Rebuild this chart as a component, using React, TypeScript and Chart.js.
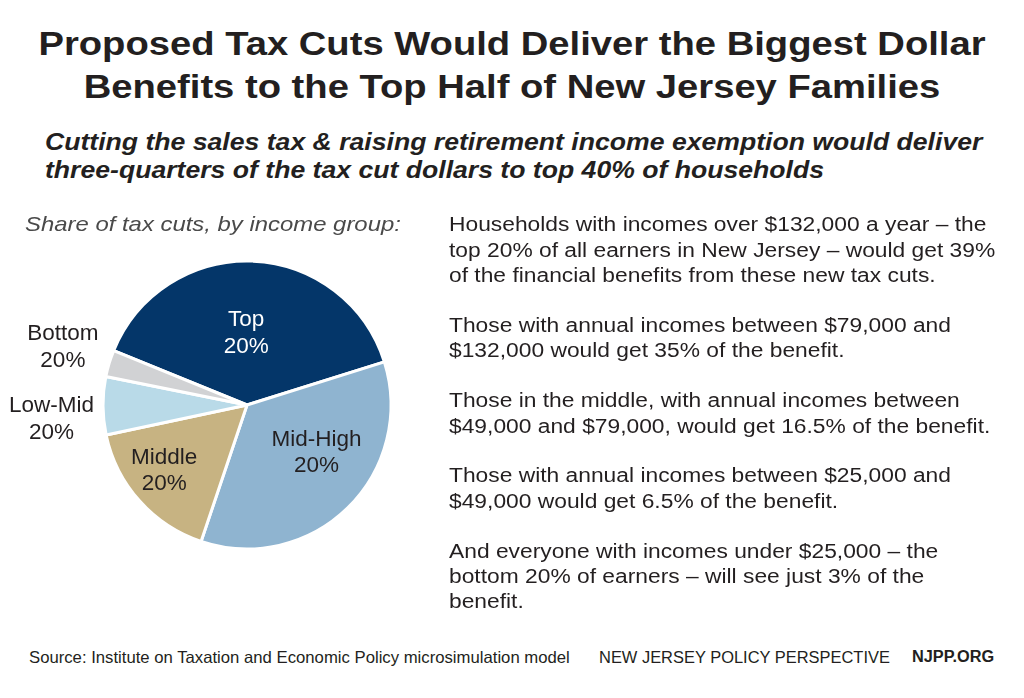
import React, { useEffect, useRef } from "react";
import { Chart, registerables } from "chart.js";
Chart.register(...registerables);

// ---- data ----
const groups = ["Top", "Mid-High", "Middle", "Low-Mid", "Bottom"];
const groupSizes = ["20%", "20%", "20%", "20%", "20%"];
const shareOfTaxCuts = [39, 35, 16.5, 6.5, 3];

const titleLines = [
  "Proposed Tax Cuts Would Deliver the Biggest Dollar",
  "Benefits to the Top Half of New Jersey Families",
];
const subtitleLines = [
  "Cutting the sales tax & raising retirement income exemption would deliver",
  "three-quarters of the tax cut dollars to top 40% of households",
];
const chartCaption = "Share of tax cuts, by income group:";
const paragraphs = [
  [
    "Households with incomes over $132,000 a year \u2013 the",
    "top 20% of all earners in New Jersey \u2013 would get 39%",
    "of the financial benefits from these new tax cuts.",
  ],
  ["Those with annual incomes between $79,000 and", "$132,000 would get 35% of the benefit."],
  [
    "Those in the middle, with annual incomes between",
    "$49,000 and $79,000, would get 16.5% of the benefit.",
  ],
  ["Those with annual incomes between $25,000 and", "$49,000 would get 6.5% of the benefit."],
  [
    "And everyone with incomes under $25,000 \u2013 the",
    "bottom 20% of earners \u2013 will see just 3% of the",
    "benefit.",
  ],
];
const sourceText = "Source: Institute on Taxation and Economic Policy microsimulation model";
const orgText = "NEW JERSEY POLICY PERSPECTIVE";
const siteText = "NJPP.ORG";

// ---- styles ----
const sliceColors = ["#043669", "#8fb4d0", "#c7b382", "#b9dae8", "#d1d2d4"];
const labelColors = ["#ffffff", "#231f20", "#231f20", "#231f20", "#231f20"];
const labelRadiusFactor = [0.507, 0.579, 0.727, 1.36, 1.343];
const labelNudgeDeg = [-3, -12, 4, -3.4, 1];
const FONT = '"Liberation Sans", Arial, Helvetica, sans-serif';
const INK = "#231f20";

type LineProps = {
  text: string;
  x?: number;
  baseline: number;
  size: number;
  weight?: number;
  italic?: boolean;
  scale?: number;
  center?: boolean;
  color?: string;
};

function Line({ text, x = 0, baseline, size, weight = 400, italic = false, scale = 1, center = false, color = INK }: LineProps) {
  const top = baseline - 0.8465 * size;
  const style: React.CSSProperties = {
    position: "absolute",
    top,
    left: center ? 0 : x,
    width: center ? 1024 : undefined,
    textAlign: center ? "center" : "left",
    fontFamily: FONT,
    fontSize: size,
    lineHeight: `${size}px`,
    fontWeight: weight,
    fontStyle: italic ? "italic" : "normal",
    color,
    whiteSpace: "nowrap",
    transform: `scaleX(${scale})`,
    transformOrigin: center ? "512px 0" : "0 0",
  };
  return <div style={style}>{text}</div>;
}

const labelPlugin = {
  id: "sliceLabels",
  afterDatasetsDraw(chart: any) {
    const ctx = chart.ctx;
    const meta = chart.getDatasetMeta(0);
    ctx.save();
    ctx.font = `22.5px ${FONT}`;
    ctx.textAlign = "center";
    ctx.textBaseline = "alphabetic";
    meta.data.forEach((arc: any, i: number) => {
      const p = arc.getProps(["x", "y", "startAngle", "endAngle", "outerRadius"], true);
      const mid = (p.startAngle + p.endAngle) / 2 + (labelNudgeDeg[i] * Math.PI) / 180;
      const r = p.outerRadius * labelRadiusFactor[i];
      const cx = p.x + Math.cos(mid) * r;
      const cy = p.y + Math.sin(mid) * r;
      ctx.fillStyle = labelColors[i];
      ctx.fillText(groups[i], cx, cy - 5.5);
      ctx.fillText(groupSizes[i], cx, cy + 21.2);
    });
    ctx.restore();
  },
};

function Pie() {
  const ref = useRef<HTMLCanvasElement | null>(null);
  useEffect(() => {
    if (!ref.current) return;
    const chart = new Chart(ref.current, {
      type: "pie",
      data: {
        labels: groups,
        datasets: [
          {
            data: shareOfTaxCuts,
            backgroundColor: sliceColors,
            borderColor: "#ffffff",
            borderWidth: 3,
            hoverBorderWidth: 3,
          },
        ],
      },
      options: {
        responsive: false,
        animation: false,
        radius: 144,
        rotation: -67.8,
        layout: { padding: 0 },
        events: [],
        plugins: {
          legend: { display: false },
          tooltip: { enabled: false },
          title: { display: false },
        },
      } as any,
      plugins: [labelPlugin],
    });
    return () => chart.destroy();
  }, []);
  return (
    <canvas
      ref={ref}
      width={494}
      height={420}
      style={{ position: "absolute", left: 0, top: 195, width: 494, height: 420 }}
    />
  );
}

export default function App() {
  const paraBaselines = [
    [231, 257, 282.3],
    [331.7, 357.3],
    [406.7, 432.5],
    [482.3, 508.3],
    [558.3, 583.3, 608.3],
  ];
  return (
    <div
      style={{
        position: "absolute",
        left: 0,
        top: 0,
        width: 1024,
        height: 698,
        background: "#ffffff",
        overflow: "hidden",
      }}
    >
      <Pie />
      {titleLines.map((t, i) => (
        <Line key={"t" + i} text={t} baseline={55 + i * 43.5} size={33.5} weight={700} scale={1.14} center />
      ))}
      {subtitleLines.map((t, i) => (
        <Line key={"s" + i} text={t} x={45} baseline={150 + i * 28.5} size={24.2} weight={700} italic scale={1.1} />
      ))}
      <Line text={chartCaption} x={25} baseline={231.7} size={20.7} italic scale={1.155} color="#4a4a4a" />
      {paragraphs.map((p, pi) =>
        p.map((t, li) => (
          <Line key={`p${pi}-${li}`} text={t} x={449} baseline={paraBaselines[pi][li]} size={20} scale={1.14} />
        ))
      )}
      <Line text={sourceText} x={29} baseline={662.7} size={16.5} scale={1.012} />
      <Line text={orgText} x={599} baseline={662.7} size={16.3} scale={1.01} />
      <Line text={siteText} x={912} baseline={662.7} size={16} weight={700} scale={1.02} />
    </div>
  );
}
